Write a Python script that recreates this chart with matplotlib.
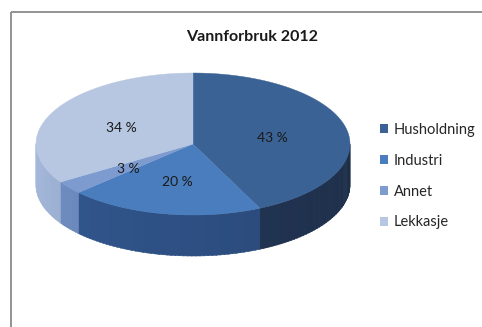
import numpy as np
import matplotlib
matplotlib.use("Agg")
import matplotlib.pyplot as plt
from matplotlib.patches import Polygon, Rectangle, Patch

# ---- data ----
categories = ["Husholdning", "Industri", "Annet", "Lekkasje"]
values = [43, 20, 3, 34]
value_labels = ["43 %", "20 %", "3 %", "34 %"]
title = "Vannforbruk 2012"

# ---- style ----
top_colors = ["#3b6294", "#4a7dbd", "#7d9bcf", "#b8c7e1"]
side_colors = ["#24395a", "#30548a", "#6a87b9", "#98abcc"]
legend_colors = ["#3b6294", "#4a7dbd", "#7d9bcf", "#b8c7e1"]

W, H = 482, 327
fig = plt.figure(figsize=(W / 100, H / 100), dpi=100)
ax = fig.add_axes([0, 0, 1, 1])
ax.set_xlim(0, W)
ax.set_ylim(H, 0)
ax.axis("off")

# frame of the chart area
ax.add_patch(Rectangle((10.5, 11.5), 500, 400, fill=False, ec="#8a8a8a", lw=1.3))

# pie geometry (pixels)
cx, cy = 193, 144
a, b = 157, 71
depth = 41


def pt(theta_deg, r=1.0):
    t = np.radians(theta_deg)
    return cx + r * a * np.sin(t), cy - r * b * np.cos(t)


total = float(sum(values))
bounds = np.concatenate([[0], np.cumsum(values) / total * 360.0])

# sides (front half: 90..270 degrees clockwise from top)
for i in range(len(values)):
    t0, t1 = max(bounds[i], 90), min(bounds[i + 1], 270)
    if t1 <= t0:
        continue
    n = max(2, int((t1 - t0) / 1.5))
    edges = np.linspace(t0, t1, n + 1)
    base = np.array(matplotlib.colors.to_rgb(side_colors[i]))
    for k in range(n):
        s0, s1 = edges[k], edges[k + 1]
        tm = 0.5 * (s0 + s1)
        # lighter toward the left, darker toward the right
        f = 0.80 + 0.28 * (tm - 90) / 180.0
        col = np.clip(base * f, 0, 1)
        ts = np.linspace(s0, s1 + 0.3, 4)
        topx, topy = pt(ts)
        poly = list(zip(topx, topy)) + list(zip(topx[::-1], topy[::-1] + depth))
        ax.add_patch(Polygon(poly, closed=True, fc=col, ec=col, lw=0.4))

# top surface
for i in range(len(values)):
    ts = np.linspace(bounds[i], bounds[i + 1], 200)
    xs, ys = pt(ts)
    poly = [(cx, cy)] + list(zip(xs, ys))
    ax.add_patch(Polygon(poly, closed=True, fc=top_colors[i], ec=top_colors[i], lw=0.3))

# data labels
for i in range(len(values)):
    mid = 0.5 * (bounds[i] + bounds[i + 1])
    lx, ly = pt(mid, 0.52)
    ax.text(lx, ly + 2, value_labels[i], ha="center", va="center",
            fontsize=10, family="Lato", color="#1a1a1a")

# title
ax.text(252, 37, title, ha="center", va="center", fontsize=11.5,
        family="Lato", fontweight="bold", color="#1a1a1a")

# legend
handles = [Patch(fc=c, ec="none") for c in legend_colors]
leg = ax.legend(handles, categories, loc="upper left",
                bbox_to_anchor=(380 / W, 1 - 123 / H),
                frameon=False,
                prop={"family": "Lato", "size": 10.5},
                handlelength=0.55, handleheight=0.55, handletextpad=0.4,
                labelspacing=1.15, borderpad=0, borderaxespad=0)
for t in leg.get_texts():
    t.set_color("#262626")

fig.savefig("out.png", dpi=100)
